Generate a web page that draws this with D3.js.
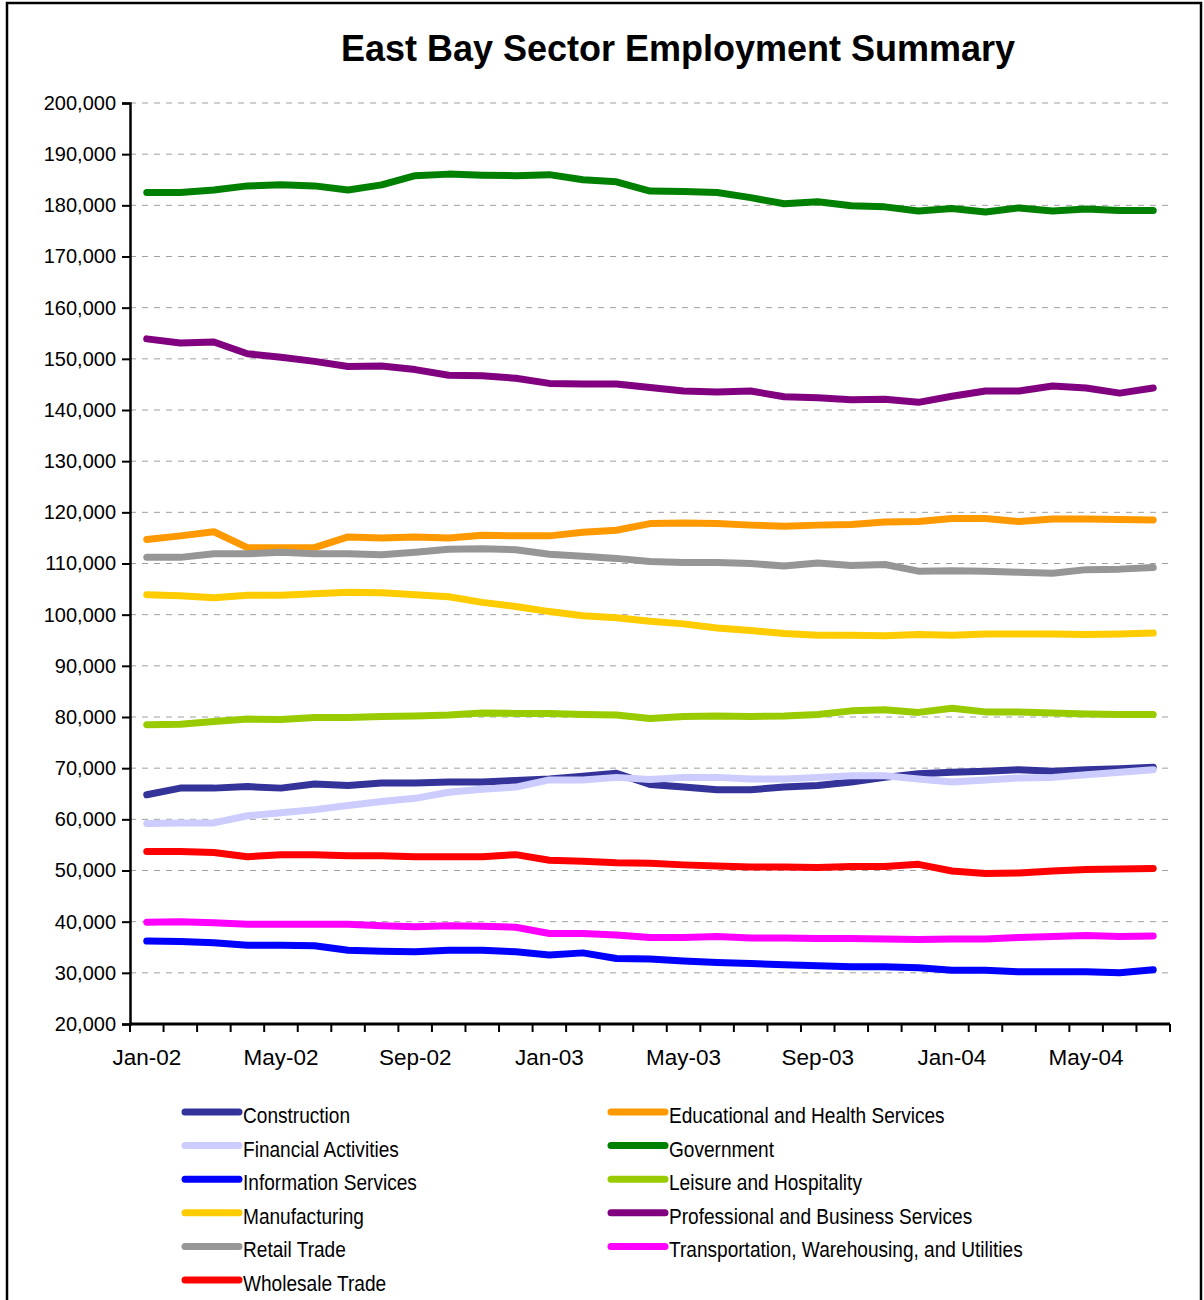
<!DOCTYPE html>
<html>
<head>
<meta charset="utf-8">
<script src="https://cdn.jsdelivr.net/npm/d3@7"></script>
<style>
  body { margin: 0; background: #fff; }
  svg text { font-family: "Liberation Sans", Arial, sans-serif; }
</style>
</head>
<body>
<svg id="chart" width="1204" height="1300"></svg>
<script>
// months on the category axis
const months = ['Jan-02', 'Feb-02', 'Mar-02', 'Apr-02', 'May-02', 'Jun-02', 'Jul-02', 'Aug-02', 'Sep-02', 'Oct-02', 'Nov-02', 'Dec-02',
  'Jan-03', 'Feb-03', 'Mar-03', 'Apr-03', 'May-03', 'Jun-03', 'Jul-03', 'Aug-03', 'Sep-03', 'Oct-03', 'Nov-03', 'Dec-03',
  'Jan-04', 'Feb-04', 'Mar-04', 'Apr-04', 'May-04', 'Jun-04', 'Jul-04'];
const monthLabels = ['Jan-02', 'May-02', 'Sep-02', 'Jan-03', 'May-03', 'Sep-03', 'Jan-04', 'May-04'];
const yTicks = [20000, 30000, 40000, 50000, 60000, 70000, 80000, 90000, 100000, 110000, 120000, 130000, 140000, 150000, 160000, 170000, 180000, 190000, 200000];

// employment, thousands
const construction = [64.8, 66.1, 66.1, 66.4, 66.1, 66.9, 66.6, 67.1, 67.1, 67.3, 67.3, 67.6, 67.9, 68.4, 69.0, 66.8,
  66.3, 65.8, 65.8, 66.3, 66.6, 67.3, 68.2, 68.9, 69.2, 69.4, 69.7, 69.4, 69.7, 69.9, 70.2];
const educational = [114.7, 115.4, 116.2, 113.1, 113.1, 113.1, 115.2, 115.0, 115.2, 115.0, 115.5, 115.4, 115.4, 116.1, 116.5, 117.8,
  117.9, 117.8, 117.5, 117.3, 117.5, 117.6, 118.1, 118.2, 118.8, 118.8, 118.2, 118.7, 118.7, 118.6, 118.5];
const financial = [59.2, 59.3, 59.3, 60.7, 61.3, 61.9, 62.7, 63.5, 64.1, 65.3, 65.9, 66.3, 67.7, 67.7, 68.2, 67.8,
  68.2, 68.2, 67.9, 67.9, 68.2, 68.5, 68.5, 67.9, 67.3, 67.7, 68.1, 68.2, 68.7, 69.2, 69.7];
const government = [182.5, 182.5, 183.0, 183.8, 184.0, 183.8, 183.0, 184.0, 185.8, 186.1, 185.9, 185.8, 186.0, 185.0, 184.6, 182.8,
  182.7, 182.5, 181.5, 180.3, 180.7, 179.9, 179.7, 178.9, 179.4, 178.7, 179.5, 178.9, 179.3, 179.0, 179.0];
const information = [36.2, 36.1, 35.9, 35.4, 35.4, 35.3, 34.4, 34.2, 34.1, 34.4, 34.4, 34.1, 33.5, 33.9, 32.8, 32.7,
  32.3, 32.0, 31.8, 31.6, 31.4, 31.2, 31.2, 31.0, 30.5, 30.5, 30.2, 30.2, 30.2, 30.0, 30.6];
const leisure = [78.5, 78.6, 79.1, 79.6, 79.5, 79.9, 79.9, 80.1, 80.2, 80.4, 80.8, 80.7, 80.7, 80.5, 80.4, 79.7,
  80.1, 80.2, 80.1, 80.2, 80.5, 81.2, 81.4, 80.9, 81.7, 81.0, 81.0, 80.8, 80.6, 80.5, 80.5];
const manufacturing = [103.9, 103.7, 103.3, 103.8, 103.8, 104.1, 104.4, 104.3, 103.9, 103.5, 102.4, 101.6, 100.6, 99.8, 99.4, 98.7,
  98.2, 97.4, 96.9, 96.3, 96.0, 96.0, 95.9, 96.1, 96.0, 96.2, 96.2, 96.2, 96.1, 96.2, 96.4];
const professional = [153.9, 153.1, 153.3, 151.0, 150.3, 149.5, 148.5, 148.6, 147.9, 146.8, 146.7, 146.2, 145.2, 145.1, 145.1, 144.4,
  143.7, 143.5, 143.7, 142.6, 142.4, 142.0, 142.1, 141.5, 142.7, 143.7, 143.7, 144.7, 144.3, 143.3, 144.3];
const retail = [111.2, 111.2, 111.9, 111.9, 112.2, 111.9, 111.9, 111.7, 112.2, 112.8, 112.9, 112.7, 111.8, 111.4, 111.0, 110.4,
  110.2, 110.2, 110.0, 109.5, 110.1, 109.6, 109.8, 108.5, 108.6, 108.5, 108.3, 108.1, 108.8, 108.9, 109.2];
const transportation = [39.9, 40.0, 39.8, 39.5, 39.5, 39.5, 39.5, 39.2, 39.0, 39.2, 39.1, 38.9, 37.7, 37.7, 37.4, 36.9,
  36.9, 37.1, 36.8, 36.8, 36.7, 36.7, 36.6, 36.5, 36.6, 36.6, 36.9, 37.1, 37.3, 37.1, 37.2];
const wholesale = [53.7, 53.7, 53.5, 52.7, 53.1, 53.1, 52.9, 52.9, 52.7, 52.7, 52.7, 53.1, 52.0, 51.8, 51.5, 51.4,
  51.1, 50.9, 50.7, 50.7, 50.6, 50.8, 50.8, 51.2, 49.9, 49.4, 49.5, 49.9, 50.2, 50.3, 50.4];

const series = [
  { name: 'Construction', values: construction, color: '#333399' },
  { name: 'Educational and Health Services', values: educational, color: '#FF9900' },
  { name: 'Financial Activities', values: financial, color: '#CCCCFF' },
  { name: 'Government', values: government, color: '#008000' },
  { name: 'Information Services', values: information, color: '#0000FF' },
  { name: 'Leisure and Hospitality', values: leisure, color: '#99CC00' },
  { name: 'Manufacturing', values: manufacturing, color: '#FFCC00' },
  { name: 'Professional and Business Services', values: professional, color: '#800080' },
  { name: 'Retail Trade', values: retail, color: '#969696' },
  { name: 'Transportation, Warehousing, and Utilities', values: transportation, color: '#FF00FF' },
  { name: 'Wholesale Trade', values: wholesale, color: '#FF0000' }
];

const svg = d3.select('#chart');
const plotLeft = 130, plotRight = 1170, plotTop = 103, plotBottom = 1024;

// outer frame
svg.append('rect')
  .attr('x', 7).attr('y', 3).attr('width', 1194).attr('height', 1310)
  .attr('fill', '#fff').attr('stroke', '#000').attr('stroke-width', 2.5);

svg.append('text')
  .attr('x', 678).attr('y', 61)
  .attr('text-anchor', 'middle')
  .attr('font-size', '36px').attr('font-weight', 'bold')
  .text('East Bay Sector Employment Summary');

const x = d3.scaleBand().domain(months).range([plotLeft, plotRight]);
const y = d3.scaleLinear().domain([20000, 200000]).range([plotBottom, plotTop]);
const xPos = m => x(m) + x.bandwidth() / 2;

// gridlines
svg.append('g')
  .selectAll('line')
  .data(yTicks.slice(1))
  .join('line')
  .attr('x1', plotLeft).attr('x2', plotRight)
  .attr('y1', d => y(d)).attr('y2', d => y(d))
  .attr('stroke', '#a0a0a0').attr('stroke-width', 1)
  .attr('stroke-dasharray', '6,6');

// y axis
const yAxis = svg.append('g')
  .attr('transform', `translate(${plotLeft},0)`)
  .call(d3.axisLeft(y).tickValues(yTicks).tickSize(8).tickPadding(6).tickFormat(d3.format(',')));
yAxis.select('.domain').attr('stroke-width', 2.5);
yAxis.selectAll('.tick line').attr('stroke-width', 2);
yAxis.selectAll('text').attr('font-size', '20px').attr('fill', '#000');

// x axis: ticks on category boundaries, labels every 4 months
const xAxis = svg.append('g').attr('transform', `translate(0,${plotBottom})`);
xAxis.append('line')
  .attr('x1', plotLeft).attr('x2', plotRight).attr('stroke', '#000').attr('stroke-width', 3);
xAxis.selectAll('.xtick')
  .data(months.concat(['end']))
  .join('line')
  .attr('class', 'xtick')
  .attr('x1', (d, i) => i < months.length ? x(d) : plotRight)
  .attr('x2', (d, i) => i < months.length ? x(d) : plotRight)
  .attr('y1', 0).attr('y2', 8)
  .attr('stroke', '#000').attr('stroke-width', 2);
xAxis.selectAll('.xlabel')
  .data(monthLabels)
  .join('text')
  .attr('class', 'xlabel')
  .attr('x', d => xPos(d)).attr('y', 41)
  .attr('text-anchor', 'middle')
  .attr('font-size', '22.5px')
  .text(d => d);

// lines
const line = d3.line()
  .x((d, i) => xPos(months[i]))
  .y(d => y(d * 1000));

svg.append('g')
  .selectAll('path')
  .data(series)
  .join('path')
  .attr('d', d => line(d.values))
  .attr('fill', 'none')
  .attr('stroke', d => d.color)
  .attr('stroke-width', 7)
  .attr('stroke-linejoin', 'round')
  .attr('stroke-linecap', 'round');

// legend, two columns
const legend = svg.append('g')
  .selectAll('g')
  .data(series)
  .join('g')
  .attr('transform', (d, i) => `translate(${i % 2 === 0 ? 183 : 609},${1112 + Math.floor(i / 2) * 33.6})`);
legend.append('line')
  .attr('x1', 2).attr('x2', 56)
  .attr('stroke', d => d.color)
  .attr('stroke-width', 7)
  .attr('stroke-linecap', 'round');
const legendText = legend.append('text')
  .attr('font-size', '22px')
  .text(d => d.name);
// narrow the legend font: the widest label spans about 354px in the original
const widest = d3.max(legendText.nodes(), n => n.getComputedTextLength());
const squeeze = 354 / widest;
legendText.attr('transform', `translate(60,11) scale(${squeeze},1)`);
</script>
</body>
</html>
